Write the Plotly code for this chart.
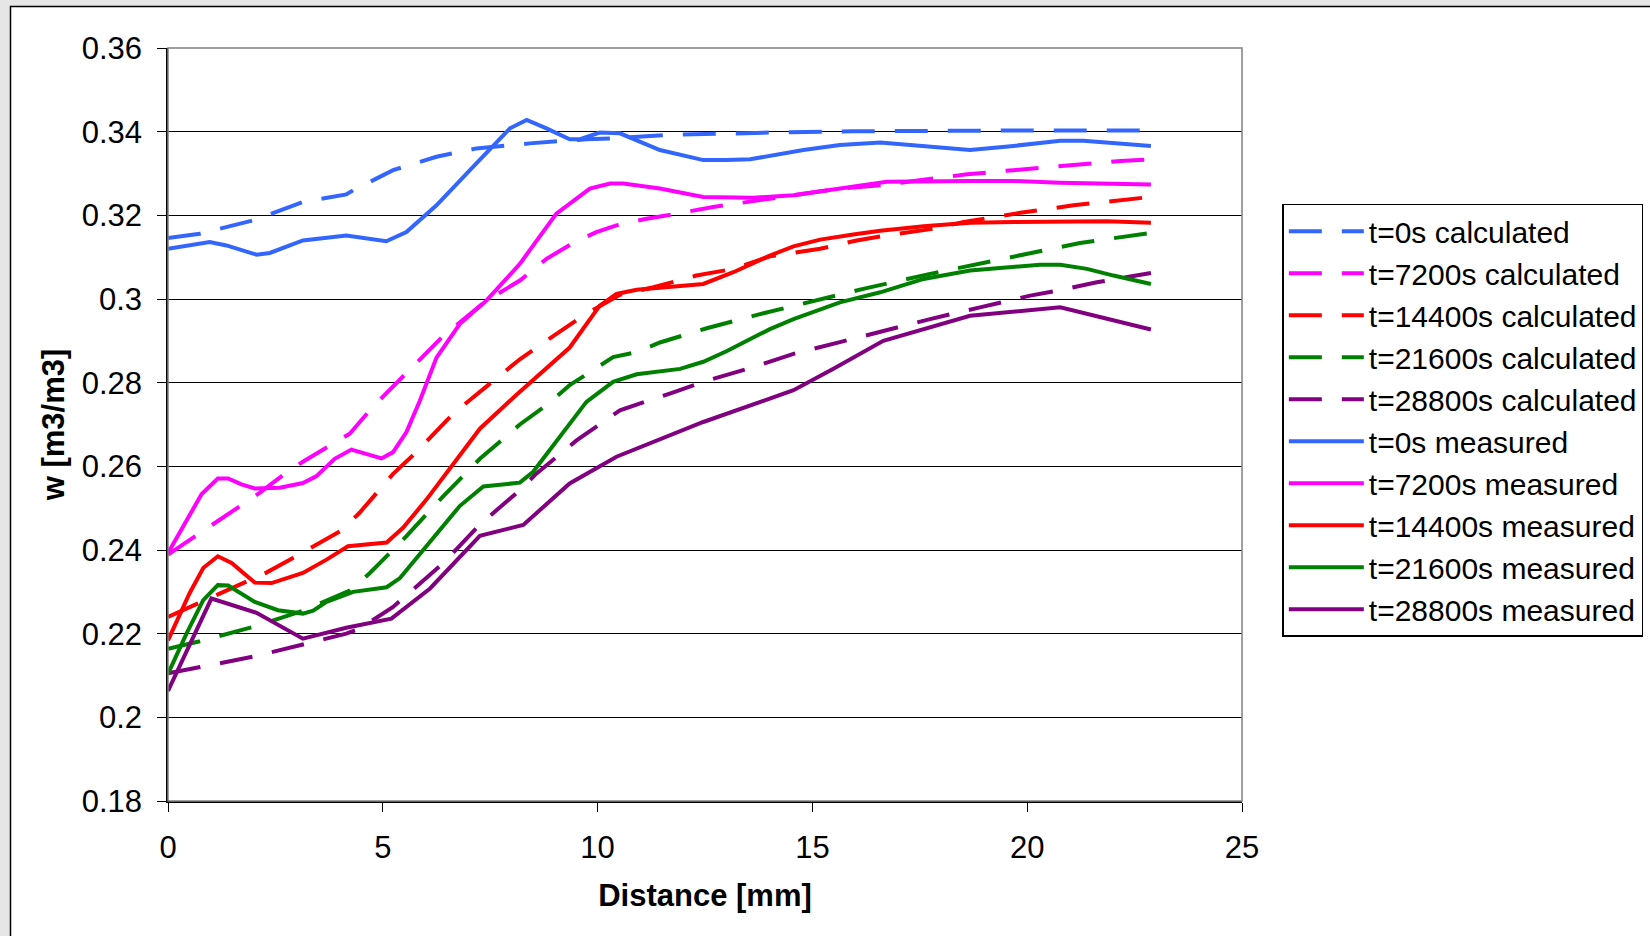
import plotly.graph_objects as go

# ---------------- data ----------------
names_calc = ["t=0s calculated", "t=7200s calculated", "t=14400s calculated",
              "t=21600s calculated", "t=28800s calculated"]
names_meas = ["t=0s measured", "t=7200s measured", "t=14400s measured",
              "t=21600s measured", "t=28800s measured"]
colors = ["#3366FF", "#FF00FF", "#FF0000", "#008000", "#800080"]

y_tickvals = [0.18, 0.20, 0.22, 0.24, 0.26, 0.28, 0.30, 0.32, 0.34, 0.36]
y_ticktext = ["0.18", "0.2", "0.22", "0.24", "0.26", "0.28", "0.3", "0.32", "0.34", "0.36"]
x_tickvals = [0, 5, 10, 15, 20, 25]

# calculated
x_c0 = [0, 0.74, 1.98, 3.14, 4.15, 4.31, 5.24, 6.25, 7.18, 8.42, 9.74, 10.36, 11.6, 12.85, 14.09, 15.95, 18.52, 20.46, 22.88]
y_c0 = [0.3146, 0.3156, 0.3188, 0.3232, 0.325, 0.326, 0.3308, 0.334, 0.336, 0.3372, 0.3382, 0.3384, 0.3392, 0.3396, 0.3398, 0.3401, 0.3403, 0.3403, 0.3403]

x_c1 = [0, 0.58, 1.67, 2.14, 2.68, 3.14, 3.77, 4.23, 4.7, 4.97, 6.4, 7.41, 8.19, 8.81, 9.43, 9.97, 10.44, 11.14, 11.84, 12.69, 13.62, 14.56, 15.64, 16.58, 17.97, 18.6, 19.68, 20.92, 22.17, 22.88]
y_c1 = [0.2389, 0.2429, 0.2507, 0.2537, 0.2579, 0.2611, 0.265, 0.2678, 0.2734, 0.2763, 0.2911, 0.2996, 0.3044, 0.3096, 0.3134, 0.316, 0.3176, 0.3192, 0.3204, 0.322, 0.3234, 0.3248, 0.3264, 0.3272, 0.329, 0.3298, 0.3308, 0.332, 0.333, 0.3334]

x_c2 = [0, 1.13, 2.29, 2.91, 4.04, 4.46, 5.24, 5.78, 6.64, 7.07, 8.19, 8.58, 9.66, 10.52, 11.3, 12.3, 13.16, 14.01, 15.18, 16.03, 16.73, 17.82, 18.52, 19.84, 21.08, 22.88]
y_c2 = [0.224, 0.2292, 0.2346, 0.2381, 0.2447, 0.2489, 0.2582, 0.2634, 0.2726, 0.2762, 0.2856, 0.2884, 0.296, 0.301, 0.3028, 0.3056, 0.3072, 0.3102, 0.312, 0.314, 0.3152, 0.3168, 0.3184, 0.3206, 0.3224, 0.3244]

x_c3 = [0, 0.74, 1.98, 3.14, 4.23, 4.7, 5.55, 6.41, 7.26, 8.19, 8.81, 9.35, 10.36, 10.91, 11.45, 12.54, 13.78, 15.02, 16.26, 17.74, 18.9, 20.07, 21.23, 22.88]
y_c3 = [0.2164, 0.2182, 0.2216, 0.2255, 0.2303, 0.2345, 0.2433, 0.2529, 0.2618, 0.27, 0.2746, 0.2794, 0.2861, 0.2873, 0.2896, 0.293, 0.2964, 0.2996, 0.3026, 0.306, 0.3084, 0.311, 0.3134, 0.3158]

x_c4 = [0, 0.74, 1.98, 3.14, 4.15, 4.46, 5.24, 6.41, 7.26, 8.19, 8.58, 9.51, 10.52, 11.68, 12.46, 13.62, 14.56, 15.64, 16.58, 17.74, 18.9, 20.07, 20.81, 21.62, 22.88]
y_c4 = [0.2105, 0.212, 0.2145, 0.2174, 0.22, 0.2212, 0.2264, 0.2369, 0.2461, 0.2543, 0.2583, 0.2662, 0.2734, 0.2774, 0.2802, 0.2837, 0.2869, 0.2897, 0.2922, 0.2952, 0.298, 0.3008, 0.3022, 0.304, 0.3062]

# measured
x_m0 = [0, 0.97, 1.36, 2.06, 2.37, 3.14, 4.15, 5.08, 5.55, 6.25, 7.1, 7.96, 8.35, 8.66, 8.81, 9.35, 9.59, 10.05, 10.52, 11.45, 12.46, 13.0, 13.55, 14.79, 15.64, 16.58, 17.59, 18.67, 19.68, 20.77, 21.31, 22.88]
y_m0 = [0.312, 0.3136, 0.3128, 0.3106, 0.311, 0.314, 0.3152, 0.3138, 0.316, 0.3224, 0.3316, 0.3408, 0.3428, 0.3416, 0.3408, 0.3382, 0.3382, 0.3398, 0.3396, 0.3356, 0.3332, 0.3332, 0.3334, 0.3356, 0.3368, 0.3374, 0.3366, 0.3356, 0.3366, 0.3378, 0.3378, 0.3366]

x_m1 = [0, 0.78, 1.16, 1.4, 1.71, 2.02, 2.6, 3.14, 3.45, 3.88, 4.27, 4.97, 5.24, 5.55, 5.86, 6.25, 6.79, 7.41, 8.19, 9.04, 9.82, 10.29, 10.6, 11.45, 12.46, 13.62, 14.56, 15.56, 16.73, 18.67, 19.68, 20.77, 22.88]
y_m1 = [0.2393, 0.2533, 0.2571, 0.2571, 0.2557, 0.2547, 0.2549, 0.256, 0.2576, 0.2618, 0.264, 0.2619, 0.2634, 0.2682, 0.2756, 0.286, 0.294, 0.2996, 0.3084, 0.3204, 0.3264, 0.3276, 0.3276, 0.3264, 0.3244, 0.3242, 0.3248, 0.3263, 0.328, 0.3282, 0.3282, 0.3278, 0.3274]

x_m2 = [0, 0.5, 0.82, 1.16, 1.48, 2.02, 2.41, 3.14, 3.69, 4.19, 5.09, 5.47, 6.02, 6.64, 7.26, 8.1, 9.35, 10.05, 10.44, 10.91, 11.68, 12.46, 13.16, 14.01, 14.56, 15.18, 15.95, 16.58, 17.59, 18.67, 19.68, 20.77, 21.86, 22.88]
y_m2 = [0.2184, 0.2296, 0.2357, 0.2385, 0.2369, 0.2322, 0.2321, 0.2345, 0.2377, 0.2409, 0.2418, 0.2453, 0.2521, 0.2606, 0.269, 0.277, 0.2884, 0.2984, 0.3012, 0.3022, 0.3028, 0.3036, 0.3064, 0.3104, 0.3126, 0.3142, 0.3154, 0.3163, 0.3174, 0.3182, 0.3184, 0.3186, 0.3186, 0.3182]

x_m3 = [0, 0.43, 0.82, 1.16, 1.4, 2.02, 2.56, 3.14, 3.38, 3.69, 4.31, 5.09, 5.4, 6.02, 6.79, 7.34, 8.19, 8.5, 9.12, 9.74, 10.36, 10.91, 11.92, 12.46, 13.0, 14.01, 14.56, 15.64, 16.58, 17.59, 18.67, 19.68, 20.3, 20.77, 21.39, 22.01, 22.88]
y_m3 = [0.2104, 0.22, 0.228, 0.2316, 0.2315, 0.2276, 0.2256, 0.2248, 0.2255, 0.2276, 0.23, 0.2311, 0.2333, 0.2409, 0.2505, 0.2552, 0.2561, 0.2587, 0.267, 0.2754, 0.2802, 0.282, 0.2833, 0.285, 0.2875, 0.2928, 0.2952, 0.2992, 0.3016, 0.3048, 0.3068, 0.3078, 0.3082, 0.3082, 0.3072, 0.3056, 0.3036]

x_m4 = [0, 1.01, 2.06, 3.14, 4.15, 5.2, 6.1, 7.26, 8.27, 9.35, 10.44, 12.46, 14.56, 15.49, 16.65, 18.67, 20.77, 22.88]
y_m4 = [0.2063, 0.2284, 0.225, 0.2188, 0.2214, 0.2236, 0.2308, 0.2434, 0.246, 0.2559, 0.2623, 0.2706, 0.2782, 0.2833, 0.29, 0.296, 0.298, 0.2927]

calc_x = [x_c0, x_c1, x_c2, x_c3, x_c4]
calc_y = [y_c0, y_c1, y_c2, y_c3, y_c4]
meas_x = [x_m0, x_m1, x_m2, x_m3, x_m4]
meas_y = [y_m0, y_m1, y_m2, y_m3, y_m4]

# ---------------- figure ----------------
FONT = "Liberation Sans, Arial, sans-serif"
fig = go.Figure()

for i in range(5):
    fig.add_trace(go.Scatter(x=calc_x[i], y=calc_y[i], mode="lines", name=names_calc[i],
                             legendgroup="c%d" % i,
                             line=dict(color=colors[i], width=4, dash="33px,20px")))
for i in range(5):
    fig.add_trace(go.Scatter(x=meas_x[i], y=meas_y[i], mode="lines", name=names_meas[i],
                             legendgroup="m%d" % i,
                             line=dict(color=colors[i], width=4)))

W, H = 1650, 936
L, R, T, B = 168.4, 1241.7, 48.4, 800.8
pw, ph = R - L, B - T

def px_x(p):
    return (p - L) / pw

def px_y(p):
    return (B - p) / ph

shapes = [
    # white chart area with black outer border
    dict(type="rect", xref="paper", yref="paper", layer="below",
         x0=px_x(11), x1=px_x(1665), y0=px_y(950), y1=px_y(7),
         fillcolor="white", line=dict(color="black", width=1.5)),
    # gray plot frame (top / right)
    dict(type="rect", xref="paper", yref="paper", layer="above",
         x0=0, x1=1, y0=0, y1=1, line=dict(color="#808080", width=1.5)),
]

fig.update_layout(
    width=W, height=H,
    margin=dict(l=L, r=W - R, t=T, b=H - B, autoexpand=False),
    paper_bgcolor="#E6E6E6",
    plot_bgcolor="white",
    font=dict(family=FONT, size=31, color="black"),
    shapes=shapes,
    showlegend=True,
    legend=dict(x=px_x(1282), y=px_y(204), xanchor="left", yanchor="top",
                bgcolor="white", bordercolor="black", borderwidth=1.5,
                font=dict(family=FONT, size=30, color="black"),
                itemwidth=75, tracegroupgap=9, traceorder="normal"),
    xaxis=dict(range=[0, 25], tickvals=x_tickvals, ticks="outside", ticklen=9,
               tickcolor="black", tickwidth=1, showgrid=False, zeroline=False,
               showline=True, linecolor="black", linewidth=1.5,
               ticklabelstandoff=9,
               title=dict(text="<b>Distance [mm]</b>", standoff=20,
                          font=dict(family=FONT, size=31))),
    yaxis=dict(range=[0.18, 0.36], tickvals=y_tickvals, ticktext=y_ticktext,
               ticks="outside", ticklen=9, tickcolor="black", tickwidth=1,
               showgrid=True, gridcolor="black", gridwidth=1, zeroline=False,
               showline=True, linecolor="black", linewidth=1.5,
               ticklabelstandoff=9,
               title=dict(text="<b>w [m3/m3]</b>", standoff=8,
                          font=dict(family=FONT, size=31))),
)

fig.write_html("out.html",
               config={"displayModeBar": False},
               post_script="document.body.style.margin='0px';"
                           "document.body.style.background='#E6E6E6';")
